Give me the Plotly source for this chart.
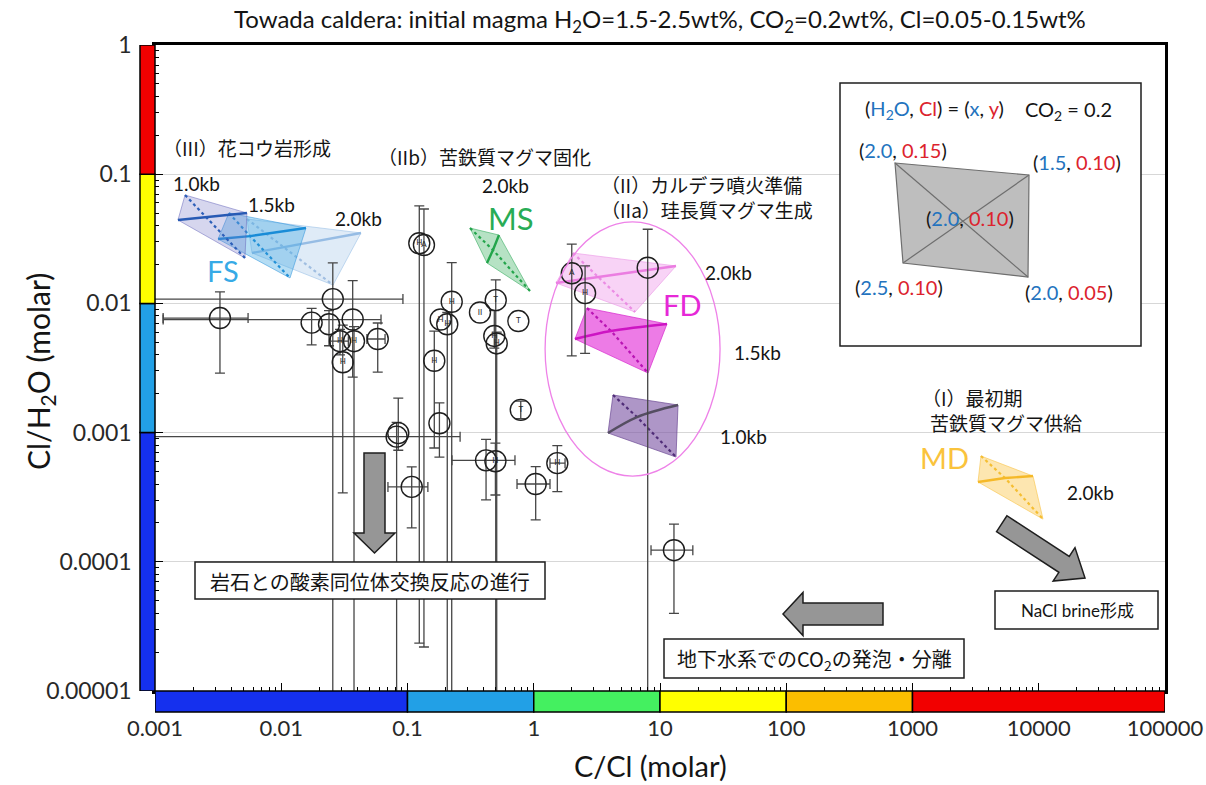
import plotly.graph_objects as go

# ---------------- measured melt-inclusion ratios (molar) ----------------
c_cl = [0.00327, 0.0256, 0.0174, 0.0239, 0.0368, 0.0292, 0.0377, 0.0581, 0.0307,
        0.0845, 0.082, 0.108, 0.124, 0.135, 0.224, 0.183, 0.2065, 0.163, 0.179,
        0.375, 0.500, 0.755, 0.487, 0.509, 0.789, 0.419, 0.497, 1.036, 1.537,
        2.00, 2.55, 7.99, 12.9]
cl_h2o = [0.0077, 0.0108, 0.0071, 0.0069, 0.0075, 0.0051, 0.0051, 0.0053, 0.0035,
          0.00099, 0.00093, 0.00038, 0.0292, 0.0283, 0.0103, 0.0075, 0.0069, 0.0036, 0.00118,
          0.0085, 0.0106, 0.0073, 0.0056, 0.0049, 0.0015, 0.00061, 0.00060, 0.00040, 0.00058,
          0.0171, 0.0120, 0.0189, 0.000123]
# error-bar limits (None = no bar); 8e-4 / 1e-6 run past the plotted range
c_cl_lo = [0.00116, 8e-4, None, None, 0.00116, 0.0245, None, 0.0477, None,
           None, 8e-4, 0.070, None, None, None, None, None, None, None,
           None, None, None, None, None, None, 0.225, None, 0.737, 1.345,
           None, None, None, 8.49]
c_cl_hi = [0.00546, 0.092, None, None, 0.0617, 0.034, None, 0.0664, None,
           None, 0.261, 0.145, None, None, None, None, None, None, None,
           None, None, None, None, None, None, 0.710, None, 1.345, 1.77,
           None, None, None, 18.2]
cl_h2o_lo = [0.00289, 1e-6, 0.00477, 0.0047, 0.00269, 0.0040, 1e-6, 0.00294, 0.000341,
             0.00073, 1e-6, 0.000183, 2.35e-5, 2.19e-5, 1e-6, None, 1e-6, 0.00076, 0.000647,
             None, 1e-6, None, 0.0045, 1e-6, 0.00128, 0.000301, 0.000329, 0.000211, 0.000349,
             0.00392, 0.00411, 1e-6, 3.99e-5]
cl_h2o_hi = [0.01226, 0.0206, 0.00916, 0.0088, 0.0150, 0.0063, 0.0066, 0.00705, 0.0068,
             0.00185, 0.0012, 0.000542, 0.0568, 0.0538, 0.0207, None, 0.0085, 0.0061, 0.0017,
             None, 0.0152, None, 0.0088, 0.0060, 0.00175, 0.000887, 0.00083, 0.000545, 0.000792,
             0.0288, 0.0195, 0.0375, 0.000196]
point_tags = ['', '', '', '', '', 'H', 'H', '', 'H',
              '', '', '', 'H', 'A', 'H', 'H', 'H', 'H', '',
              'II', 'T', 'T', 'H', 'H', 'T', '', 'H', '', 'H',
              'A', 'H', '', '']

# ---------------- degassing-model quadrilaterals ----------------
# vertex order: (H2O, Cl) = (2.0, 0.15), (1.5, 0.10), (2.0, 0.05), (2.5, 0.10), centre (2.0, 0.10)
fs_10kb_c_cl = [0.00173, 0.00535, 0.00516, 0.00152, 0.00254]
fs_10kb_cl_h2o = [0.0690, 0.0501, 0.02246, 0.0442, 0.0467]
fs_15kb_c_cl = [0.00385, 0.0157, 0.01173, 0.00316, 0.00566]
fs_15kb_cl_h2o = [0.0501, 0.0383, 0.01573, 0.0315, 0.0332]
fs_20kb_c_cl = [0.00535, 0.0428, 0.0257, 0.00587, 0.01051]
fs_20kb_cl_h2o = [0.0450, 0.0351, 0.01388, 0.02455, 0.0273]
ms_20kb_c_cl = [0.3126, 0.5305, 0.934, 0.4263, 0.4755]
ms_20kb_cl_h2o = [0.0383, 0.0338, 0.01247, 0.02055, 0.0259]
fd_20kb_c_cl = [2.046, 13.39, 6.34, 1.500, 3.228]
fd_20kb_cl_h2o = [0.02455, 0.01948, 0.00858, 0.01439, 0.0160]
fd_15kb_c_cl = [2.641, 11.36, 8.04, 2.121, 4.092]
fd_15kb_cl_h2o = [0.00921, 0.00693, 0.00289, 0.0053, 0.00611]
fd_10kb_c_cl = [4.243, 13.89, 13.39, 3.874, 6.575]
fd_10kb_cl_h2o = [0.001954, 0.001635, 0.000647, 0.000993, 0.00132]
md_20kb_c_cl = [3487, 9005, 10807, 3302, 5404]
md_20kb_cl_h2o = [0.000659, 0.000461, 0.000214, 0.000415, 0.000445]

# FD field outline (C/Cl and Cl/H2O extents)
fd_field_c_cl = [1.23, 29.9]
fd_field_cl_h2o = [0.000461, 0.0427]

# ---------------- axes ----------------
x_ticks = [1e-3, 1e-2, 1e-1, 1, 10, 100, 1000, 1e4, 1e5]
x_ticktext = ['0.001', '0.01', '0.1', '1', '10', '100', '1000', '10000', '100000']
y_ticks = [1e-5, 1e-4, 1e-3, 1e-2, 1e-1, 1]
y_ticktext = ['0.00001', '0.0001', '0.001', '0.01', '0.1', '1']
x_band_edges = [1e-3, 1e-1, 1, 10, 100, 1000, 1e5]
x_band_colors = ['#1530ee', '#22a0e6', '#44f060', '#ffff00', '#fbbe00', '#f20000']
y_band_edges = [1e-5, 1e-3, 1e-2, 1e-1, 1]
y_band_colors = ['#1530ee', '#22a0e6', '#ffff00', '#f20000']

FONT = 'Lato, "Noto Sans CJK JP", sans-serif'
JP = '"Noto Sans CJK JP", sans-serif'
BLUE_T = 'rgb(35,115,190)'
RED_T = 'rgb(220,35,45)'

W, H = 1206, 785
PL, PR, PT, PB = 155, 1165, 45, 691


def to_paper(x, y):
    return (x - PL) / (PR - PL), (PB - y) / (PB - PT)


def path_of(points):
    pts = [to_paper(x, y) for x, y in points]
    return 'M ' + ' L '.join(f'{a:.5f},{b:.5f}' for a, b in pts) + ' Z'


def block_arrow(x0, y0, x1, y1, half_shaft, half_head, head_len):
    dx, dy = x1 - x0, y1 - y0
    n = (dx * dx + dy * dy) ** 0.5
    ux, uy = dx / n, dy / n
    nx, ny = -uy, ux
    bx, by = x1 - ux * head_len, y1 - uy * head_len
    return [(x0 + nx * half_shaft, y0 + ny * half_shaft),
            (bx + nx * half_shaft, by + ny * half_shaft),
            (bx + nx * half_head, by + ny * half_head),
            (x1, y1),
            (bx - nx * half_head, by - ny * half_head),
            (bx - nx * half_shaft, by - ny * half_shaft),
            (x0 - nx * half_shaft, y0 - ny * half_shaft)]


fig = go.Figure()


def add_model(xs, ys, fill, edge, solid, dotted, curved=False):
    # quadrilateral body
    order = [0, 1, 2, 3, 0]
    fig.add_trace(go.Scatter(x=[xs[i] for i in order], y=[ys[i] for i in order],
                             mode='lines', fill='toself', fillcolor=fill,
                             line=dict(color=edge, width=1), hoverinfo='skip'))
    # Cl variation at fixed H2O (dotted diagonal)
    fig.add_trace(go.Scatter(x=[xs[0], xs[4], xs[2]], y=[ys[0], ys[4], ys[2]],
                             mode='lines', line=dict(color=dotted, width=2.2, dash='dot'),
                             hoverinfo='skip'))
    # H2O variation at fixed Cl (solid diagonal)
    fig.add_trace(go.Scatter(x=[xs[3], xs[4], xs[1]], y=[ys[3], ys[4], ys[1]],
                             mode='lines',
                             line=dict(color=solid, width=2.4,
                                       shape='spline' if curved else 'linear'),
                             hoverinfo='skip'))


add_model(fs_20kb_c_cl, fs_20kb_cl_h2o, 'rgba(170,203,235,0.38)', 'rgba(150,190,230,0.55)',
          'rgb(150,188,228)', 'rgb(160,190,225)')
add_model(fs_15kb_c_cl, fs_15kb_cl_h2o, 'rgba(70,170,228,0.4)', 'rgba(50,150,220,0.55)',
          'rgb(25,140,215)', 'rgb(35,145,215)')
add_model(fs_10kb_c_cl, fs_10kb_cl_h2o, 'rgba(120,120,200,0.3)', 'rgba(100,100,185,0.5)',
          'rgb(40,90,180)', 'rgb(45,95,185)')
add_model(ms_20kb_c_cl, ms_20kb_cl_h2o, 'rgba(80,185,115,0.42)', 'rgba(60,175,100,0.6)',
          'rgb(35,165,75)', 'rgb(35,165,75)')
add_model(fd_20kb_c_cl, fd_20kb_cl_h2o, 'rgba(242,175,238,0.55)', 'rgba(235,150,230,0.6)',
          'rgb(235,125,225)', 'rgb(235,140,228)')
add_model(fd_15kb_c_cl, fd_15kb_cl_h2o, 'rgba(228,60,218,0.68)', 'rgba(215,40,205,0.7)',
          'rgb(205,20,195)', 'rgb(185,20,180)', curved=True)
add_model(fd_10kb_c_cl, fd_10kb_cl_h2o, 'rgba(125,85,165,0.62)', 'rgba(110,75,150,0.7)',
          'rgb(85,78,98)', 'rgb(80,45,120)', curved=True)
add_model(md_20kb_c_cl, md_20kb_cl_h2o, 'rgba(250,200,80,0.45)', 'rgba(248,195,70,0.6)',
          'rgb(245,185,40)', 'rgb(245,190,50)')

ERR = 'rgb(70,70,70)'
yi = [i for i, v in enumerate(cl_h2o_lo) if v is not None]
fig.add_trace(go.Scatter(
    x=[c_cl[i] for i in yi], y=[cl_h2o[i] for i in yi], mode='markers',
    marker=dict(size=1, color='rgba(0,0,0,0)'),
    error_y=dict(type='data', symmetric=False,
                 array=[cl_h2o_hi[i] - cl_h2o[i] for i in yi],
                 arrayminus=[cl_h2o[i] - cl_h2o_lo[i] for i in yi],
                 color=ERR, thickness=1.3, width=5),
    hoverinfo='skip'))
xi = [i for i, v in enumerate(c_cl_lo) if v is not None]
fig.add_trace(go.Scatter(
    x=[c_cl[i] for i in xi], y=[cl_h2o[i] for i in xi], mode='markers',
    marker=dict(size=1, color='rgba(0,0,0,0)'),
    error_x=dict(type='data', symmetric=False,
                 array=[c_cl_hi[i] - c_cl[i] for i in xi],
                 arrayminus=[c_cl[i] - c_cl_lo[i] for i in xi],
                 color=ERR, thickness=1.3, width=5),
    hoverinfo='skip'))
fig.add_trace(go.Scatter(
    x=c_cl, y=cl_h2o, mode='markers+text', text=point_tags,
    textposition='middle center', textfont=dict(size=8, color='rgb(40,40,40)', family=FONT),
    marker=dict(symbol='circle-open', size=21, color='rgb(30,30,30)',
                line=dict(width=1.4, color='rgb(30,30,30)')),
    hoverinfo='x+y'))

shapes = []
# colour bands along both axes
for i, col in enumerate(x_band_colors):
    shapes.append(dict(type='rect', xref='x', yref='paper',
                       x0=x_band_edges[i], x1=x_band_edges[i + 1],
                       y0=to_paper(0, 712)[1], y1=0,
                       fillcolor=col, line=dict(color='black', width=1.5)))
for i, col in enumerate(y_band_colors):
    shapes.append(dict(type='rect', xref='paper', yref='y',
                       x0=to_paper(140, 0)[0], x1=0,
                       y0=y_band_edges[i], y1=y_band_edges[i + 1],
                       fillcolor=col, line=dict(color='black', width=1.5)))
# FD field
shapes.append(dict(type='circle', xref='x', yref='y',
                   x0=fd_field_c_cl[0], x1=fd_field_c_cl[1],
                   y0=fd_field_cl_h2o[0], y1=fd_field_cl_h2o[1],
                   line=dict(color='rgb(238,130,232)', width=1.3)))
# process arrows
ARROW = dict(type='path', xref='paper', yref='paper', fillcolor='rgb(150,150,150)',
             line=dict(color='rgb(30,30,30)', width=1.5))
shapes.append(dict(ARROW, path=path_of(block_arrow(374.5, 453, 374.5, 553, 10.5, 20.5, 20))))
shapes.append(dict(ARROW, path=path_of(block_arrow(883, 614, 783, 614, 11, 21.5, 20))))
shapes.append(dict(ARROW, path=path_of(block_arrow(1001.7, 523.7, 1085, 578, 9.5, 20, 25))))
# text boxes
BOX = dict(type='rect', xref='paper', yref='paper', fillcolor='white',
           line=dict(color='rgb(30,30,30)', width=1.5))
for (x0, y0, x1, y1) in [(195, 562, 545, 599), (664, 639, 964, 678),
                         (995, 591, 1158, 629), (840, 83, 1141, 346)]:
    a0, b0 = to_paper(x0, y1)
    a1, b1 = to_paper(x1, y0)
    shapes.append(dict(BOX, x0=a0, y0=b0, x1=a1, y1=b1))
# legend quadrilateral inside the key box
key_quad = [(895, 163), (1029, 175), (1028, 277), (903, 263)]
shapes.append(dict(type='path', xref='paper', yref='paper', path=path_of(key_quad),
                   fillcolor='rgb(190,190,190)', line=dict(color='rgb(110,110,110)', width=1.2)))
for a, b in [(0, 2), (3, 1)]:
    pa, pb = to_paper(*key_quad[a]), to_paper(*key_quad[b])
    shapes.append(dict(type='line', xref='paper', yref='paper',
                       x0=pa[0], y0=pa[1], x1=pb[0], y1=pb[1],
                       line=dict(color='rgb(110,110,110)', width=1.2)))

annotations = []


def label(text, x, y, size, color='rgb(20,20,20)', anchor='center', family=FONT, angle=0):
    px, py = to_paper(x, y)
    annotations.append(dict(text=text, x=px, y=py, xref='paper', yref='paper',
                            xanchor=anchor, yanchor='middle', showarrow=False,
                            textangle=angle, font=dict(size=size, color=color, family=family)))


label('Towada caldera: initial magma H<sub>2</sub>O=1.5-2.5wt%, CO<sub>2</sub>=0.2wt%, Cl=0.05-0.15wt%',
      660, 20, 24)
label('C/Cl (molar)', 650, 765, 29)
label('Cl/H<sub>2</sub>O (molar)', 40, 372, 30, angle=-90)

label('（III）花コウ岩形成', 161, 148, 19, anchor='left', family=JP)
label('（IIb）苦鉄質マグマ固化', 376, 156, 19, anchor='left', family=JP)
label('（II）カルデラ噴火準備', 599, 185, 19, anchor='left', family=JP)
label('（IIa）珪長質マグマ生成', 599, 210, 19, anchor='left', family=JP)
label('（I）最初期', 920, 397, 19, anchor='left', family=JP)
label('苦鉄質マグマ供給', 928, 422, 19, anchor='left', family=JP)

for t, x, y in [('1.0kb', 196, 183), ('1.5kb', 271, 205), ('2.0kb', 358, 218),
                ('2.0kb', 505, 186), ('2.0kb', 728, 272), ('1.5kb', 757, 352),
                ('1.0kb', 743, 436), ('2.0kb', 1090, 492)]:
    label(t, x, y, 19)
label('FS', 223, 270, 29, color='rgb(55,170,230)')
label('MS', 511, 218, 31, color='rgb(40,172,85)')
label('FD', 682, 304, 29, color='rgb(230,40,215)')
label('MD', 944, 457, 29, color='rgb(250,195,60)')

label('岩石との酸素同位体交換反応の進行', 370, 581, 20, family=JP)
label('地下水系でのCO<sub>2</sub>の発泡・分離', 814, 659, 20, family=JP)
label('NaCl brine形成', 1077, 610, 17)

label(f'(<span style="color:{BLUE_T}">H<sub>2</sub>O</span>, <span style="color:{RED_T}">Cl</span>)'
      f' = (<span style="color:{BLUE_T}">x</span>, <span style="color:{RED_T}">y</span>)', 934, 109, 20)
label('CO<sub>2</sub> = 0.2', 1068, 111, 20)
for h2o, cl, x, y in [('2.0', '0.15', 903, 150), ('1.5', '0.10', 1077, 162),
                      ('2.0', '0.10', 970, 218), ('2.5', '0.10', 899, 287),
                      ('2.0', '0.05', 1069, 292)]:
    label(f'(<span style="color:{BLUE_T}">{h2o}</span>, <span style="color:{RED_T}">{cl}</span>)',
          x, y, 20)

minor_x = [m * 10 ** e for e in range(-3, 5) for m in range(2, 10)]
minor_y = [m * 10 ** e for e in range(-5, 0) for m in range(2, 10)]

fig.update_xaxes(type='log', range=[-3, 5], tickmode='array', tickvals=x_ticks,
                 ticktext=x_ticktext, ticks='inside', ticklen=8, tickwidth=1.2,
                 tickcolor='black', showline=True, linecolor='black', linewidth=2.5,
                 mirror=True, showgrid=False, zeroline=False, ticklabelstandoff=16,
                 automargin=False,
                 tickfont=dict(size=22, color='rgb(40,40,40)', family=FONT),
                 minor=dict(tickmode='array', tickvals=minor_x, ticks='inside', ticklen=4,
                            tickwidth=1, tickcolor='black', showgrid=False))
fig.update_yaxes(type='log', range=[-5, 0], tickmode='array', tickvals=y_ticks,
                 ticktext=y_ticktext, ticks='inside', ticklen=8, tickwidth=1.2,
                 tickcolor='black', showline=True, linecolor='black', linewidth=2.5,
                 mirror=True, showgrid=True, gridcolor='rgb(215,215,215)', gridwidth=1,
                 zeroline=False, ticklabelstandoff=16, automargin=False,
                 tickfont=dict(size=23, color='rgb(40,40,40)', family=FONT),
                 minor=dict(tickmode='array', tickvals=minor_y, ticks='inside', ticklen=4,
                            tickwidth=1, tickcolor='black', showgrid=False))

fig.update_layout(width=W, height=H, margin=dict(l=PL, r=W - PR, t=PT, b=H - PB),
                  plot_bgcolor='white', paper_bgcolor='white', showlegend=False,
                  font=dict(family=FONT), shapes=shapes, annotations=annotations)

fig.write_html('out.html')
